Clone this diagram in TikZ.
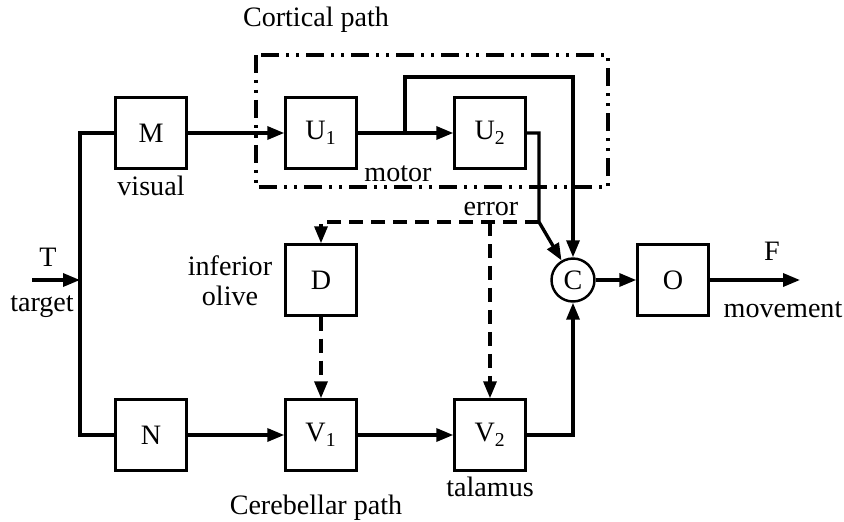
\documentclass[tikz,border=0pt]{standalone}
\usepackage{fontspec}
\setmainfont{Liberation Serif}
\usetikzlibrary{arrows.meta, calc}
\tikzset{
  block/.style={draw, line width=1.4pt, minimum width=1.42cm, minimum height=1.42cm, inner sep=0pt},
  sum/.style={draw, circle, line width=1.4pt, minimum size=0.86cm, inner sep=0pt},
  link/.style={line width=1.9pt},
  tip/.style={-{Triangle[length=3.4mm, width=2.6mm]}},
  errline/.style={line width=1.9pt, dash pattern=on 0.28cm off 0.16cm},
  cortex/.style={line width=1.9pt, dash pattern=on 0.36cm off 0.14cm on 0.06cm off 0.14cm on 0.06cm off 0.14cm},
  lbl/.style={inner sep=0pt, align=center},
}

\begin{document}
\begin{tikzpicture}[x=0.02cm, y=-0.02cm, font=\fontsize{16}{19}\selectfont]
  \useasboundingbox (0,0) rectangle (844,521);
  % cortical region
  \draw[cortex] (256,55) rectangle (608,187);
  \node[lbl] (cortlbl) at (316,20) {Cortical path};
  \node[lbl] (motorlbl) at (398,174) {motor};
  % blocks
  \node[block] (M) at (151,133) {M};
  \node[block] (U1) at (321,133) {U\textsubscript{1}};
  \node[block] (U2) at (490,133) {U\textsubscript{2}};
  \node[block] (D) at (321,280) {D};
  \node[block] (N) at (151,435) {N};
  \node[block] (V1) at (321,435) {V\textsubscript{1}};
  \node[block] (V2) at (490,435) {V\textsubscript{2}};
  \node[sum] (C) at (573,280) {C};
  \node[block] (O) at (673,280) {O};
  % helper points
  \coordinate (tin) at (32,280);
  \coordinate (split) at (80,280);
  \coordinate (fork) at (405,133);
  \coordinate (over) at (573,77);
  \coordinate (err) at (539,222);
  \coordinate (errtap) at (490,222);
  \coordinate (out) at (800,280);
  % labels
  \node[lbl] (T) at (48,257) {T};
  \node[lbl] (target) at (42,307) {target};
  \node[lbl] (visual) at (151,186) {visual};
  \node[lbl] (olive) at (230,281) {inferior\\[-2pt]olive};
  \node[lbl] (error) at (491,209) {error};
  \node[lbl] (talamus) at (490,487) {talamus};
  \node[lbl] (cerlbl) at (316,508) {Cerebellar path};
  \node[lbl] (F) at (772,251) {F};
  \node[lbl] (movement) at (783,310) {movement};
  % solid paths
  \draw[link, tip] (tin) -- (split);
  \draw[link] (M.west) -| (split) |- (N.west);
  \draw[link, tip] (M) -- (U1);
  \draw[link, tip] (U1) -- (U2);
  \draw[link, tip] (fork) |- (over) -- (C);
  \draw[link, tip] (U2.east) -| (err) -- (C);
  \draw[link, tip] (N) -- (V1);
  \draw[link, tip] (V1) -- (V2);
  \draw[link, tip] (V2.east) -| (C.south);
  \draw[link, tip] (C) -- (O);
  \draw[link, tip] (O) -- (out);
  % error signals
  \draw[errline, tip] (err) -| (D);
  \draw[errline, tip] (errtap) -- (V2);
  \draw[errline, tip] (D) -- (V1);
\end{tikzpicture}
\end{document}
